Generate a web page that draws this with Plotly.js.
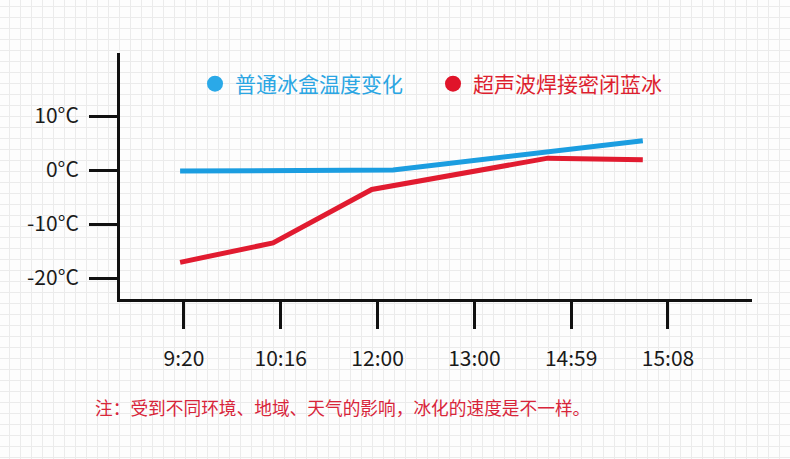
<!DOCTYPE html>
<html>
<head>
<meta charset="utf-8">
<script src="https://cdn.plot.ly/plotly-3.0.1.min.js"></script>
<style>
  html, body { margin: 0; padding: 0; }
  body {
    width: 790px; height: 459px; overflow: hidden;
    background-color: #fdfdfd;
    background-image:
      linear-gradient(to right, #ebebeb 1px, transparent 1px),
      linear-gradient(to bottom, #ebebeb 1px, transparent 1px);
    background-size: 11px 11px;
    background-position: 9px 6px;
  }
  #chart { width: 790px; height: 459px; }
</style>
</head>
<body>
<div id="chart"></div>
<script>
// Tick categories (evenly spaced on the axis)
const tickLabels = ["9:20", "10:16", "12:00", "13:00", "14:59", "15:08"];
const tickPos = [0, 1, 2, 3, 4, 5];

// Series 1: 普通冰盒温度变化 (blue)
const blueName = "普通冰盒温度变化";
const blueX = [-0.04, 2.16, 4.74];
const blueY = [-0.2, 0.0, 5.4];

// Series 2: 超声波焊接密闭蓝冰 (red)
const redName = "超声波焊接密闭蓝冰";
const redX = [-0.04, 0.92, 1.94, 3.76, 4.74];
const redY = [-17.1, -13.5, -3.6, 2.2, 1.9];

// Y ticks
const yTickVals = [10, 0, -10, -20];
const yTickText = ["10°C", "0°C", "-10°C", "-20°C"];

const noteText = "注：受到不同环境、地域、天气的影响，冰化的速度是不一样。";

const BLUE = "#1b9de0";
const RED = "#e11b30";
const FONT = "Noto Sans CJK SC, Noto Sans, sans-serif";

const traces = [
  { x: blueX, y: blueY, mode: "lines", line: { color: BLUE, width: 5 }, showlegend: false, hoverinfo: "skip" },
  { x: redX, y: redY, mode: "lines", line: { color: RED, width: 5 }, showlegend: false, hoverinfo: "skip" },
  { x: [null], y: [null], mode: "markers", marker: { color: "#2aa9e8", size: 17 },
    name: '<span style="color:#2ba6e3">' + blueName + '</span>' },
  { x: [null], y: [null], mode: "markers", marker: { color: "#e0142a", size: 17 },
    name: '<span style="color:#dd1f2f">' + redName + '</span>' }
];

const layout = {
  width: 790, height: 459,
  margin: { l: 120, r: 38, t: 53, b: 160 },
  paper_bgcolor: "rgba(0,0,0,0)",
  plot_bgcolor: "rgba(0,0,0,0)",
  font: { family: FONT, size: 21, color: "#1a1a1a" },
  showlegend: true,
  legend: {
    orientation: "h", x: 0.1187, xanchor: "left", y: 0.874, yanchor: "middle",
    bgcolor: "rgba(0,0,0,0)", font: { family: FONT, size: 21 },
    entrywidth: 193, entrywidthmode: "pixels", itemclick: false
  },
  xaxis: {
    range: [-0.661, 5.868], tickmode: "array", tickvals: tickPos, ticktext: tickLabels,
    showline: true, linecolor: "#111", linewidth: 3,
    ticks: "outside", ticklen: 27, tickwidth: 3, tickcolor: "#111",
    ticklabelstandoff: 12,
    showgrid: false, zeroline: false, fixedrange: true,
    tickfont: { family: FONT, size: 21, color: "#1a1a1a" }
  },
  yaxis: {
    range: [-23.89, 21.67], tickmode: "array", tickvals: yTickVals, ticktext: yTickText,
    showline: true, linecolor: "#111", linewidth: 3,
    ticks: "outside", ticklen: 28, tickwidth: 3, tickcolor: "#111",
    ticklabelstandoff: 6,
    showgrid: false, zeroline: false, fixedrange: true,
    tickfont: { family: FONT, size: 21, color: "#1a1a1a" }
  },
  annotations: [{
    text: noteText, xref: "paper", yref: "paper", x: -0.0427, y: -0.437,
    xanchor: "left", yanchor: "middle", showarrow: false,
    font: { family: FONT, size: 17.7, color: "#d8253a" }
  }]
};

Plotly.newPlot("chart", traces, layout, { displayModeBar: false, staticPlot: true });
</script>
</body>
</html>
